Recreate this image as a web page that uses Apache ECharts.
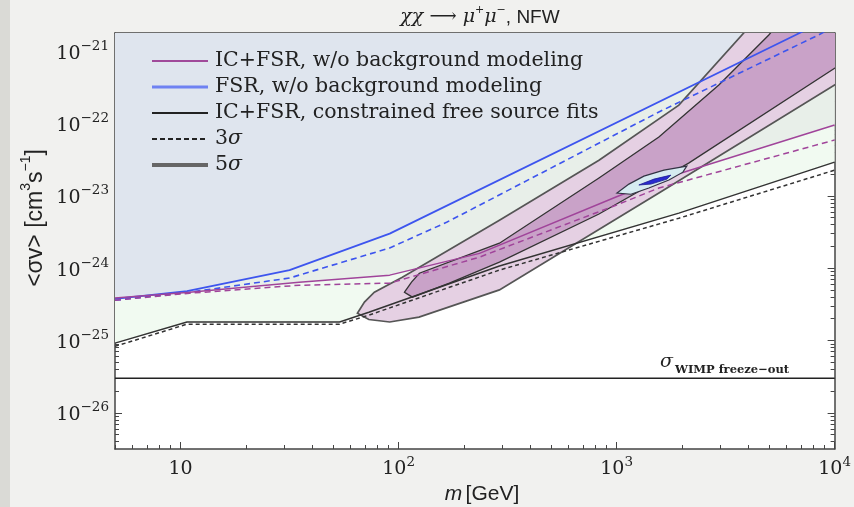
<!DOCTYPE html>
<html><head><meta charset="utf-8">
<script src="https://cdn.jsdelivr.net/npm/echarts@6/dist/echarts.min.js"></script>
<style>
html,body{margin:0;padding:0;background:#f1f1ef;}
#c{width:854px;height:507px;position:absolute;left:0;top:0;}
.strip{position:absolute;left:0;top:0;width:10px;height:507px;background:#dadad6;}
</style>
</head><body><div class="strip"></div><div id="c"></div>
<script>
// ---- data (mass in GeV, <sigma v> in cm^3/s) ----
const massBlueSolid = [5, 10.7, 31.6, 91, 6620, 10000];
const sigvBlueSolid = [3.75e-25, 4.8e-25, 9.4e-25, 3.0e-24, 1.67e-21, 3.1e-21];
const massBlueDashed = [5, 11, 31.6, 91, 166, 1563, 8430, 10000];
const sigvBlueDashed = [3.6e-25, 4.65e-25, 7.3e-25, 1.9e-24, 4.3e-24, 1.44e-22, 1.67e-21, 2.2e-21];
const massPurpleSolid = [5, 11, 35, 91, 235, 993, 1563, 10000];
const sigvPurpleSolid = [3.85e-25, 4.65e-25, 6.4e-25, 8.0e-25, 1.6e-24, 9.6e-24, 1.65e-23, 9.5e-23];
const massPurpleDashed = [5, 11, 35, 91, 235, 993, 1563, 10000];
const sigvPurpleDashed = [3.6e-25, 4.5e-25, 5.8e-25, 6.2e-25, 1.42e-24, 7.4e-24, 1.28e-23, 5.9e-23];
const massBlackSolid = [5, 10.7, 53.6, 73, 290, 1930, 10000];
const sigvBlackSolid = [9.2e-26, 1.8e-25, 1.8e-25, 2.46e-25, 1.07e-24, 5.76e-24, 2.92e-23];
const massBlackDashed = [5, 10.7, 53.6, 73, 290, 1930, 10000];
const sigvBlackDashed = [8.3e-26, 1.68e-25, 1.68e-25, 2.24e-25, 9.4e-25, 4.9e-24, 2.26e-23];
const massWimp = [5, 10000];
const sigvWimp = [3e-26, 3e-26];
// 5 sigma (outer) contour
const massOuter = [64.7, 69.7, 77.4, 104, 290, 830, 1930, 3830, 5530, 20000, 20000, 10000, 1563, 290, 124, 91, 73];
const sigvOuter = [2.38e-25, 3.39e-25, 4.65e-25, 7.5e-25, 4.6e-24, 3.1e-23, 1.79e-22, 1.78e-21, 7.0e-21, 1.3e-20, 1.21e-21, 3.4e-22, 1.09e-23, 5.0e-25, 2.1e-25, 1.8e-25, 1.95e-25];
// 3 sigma (inner) contour
const massInner = [106.4, 114.6, 124.5, 290, 830, 1563, 2944, 4990, 6840, 20000, 20000, 10000, 2140, 830, 290, 171, 115.7];
const sigvInner = [4.65e-25, 6.4e-25, 8.5e-25, 2.21e-24, 1.76e-23, 6.5e-23, 3.4e-22, 1.67e-21, 5.1e-21, 1.3e-20, 2.3e-21, 5.8e-22, 2.83e-23, 5.6e-24, 1.21e-24, 6.2e-25, 3.97e-25];
// small FSR contour
const massSmall = [1004, 1139, 1334, 1648, 2099, 2014, 1738, 1406, 1164];
const sigvSmall = [1.09e-23, 1.45e-23, 1.87e-23, 2.26e-23, 2.57e-23, 2.12e-23, 1.65e-23, 1.28e-23, 1.05e-23];
const massCore = [1265, 1483, 1775, 1702, 1436];
const sigvCore = [1.41e-23, 1.70e-23, 1.93e-23, 1.70e-23, 1.45e-23];
// ticks
const xMajorTicks = [10, 100, 1000, 10000];
const yMajorTicks = [1e-26, 1e-25, 1e-24, 1e-23, 1e-22, 1e-21];
const legendLabels = ['IC+FSR, w/o background modeling', 'FSR, w/o background modeling', 'IC+FSR, constrained free source fits', '3σ', '5σ'];

const L = Math.log10;
const lmMin = L(5), lmMax = 4, lsMin = -26.5, lsMax = -20.75;
const pts = (ms, ss) => ms.map((m, i) => [L(m), L(ss[i])]);

const xMajor = xMajorTicks.map(L);
const yMajor = yMajorTicks.map(v => Math.round(L(v)));
const xMinor = [], yMinor = [];
for (let d = 0; d <= 3; d++) for (let k = 2; k <= 9; k++) { const v = d + L(k); if (v >= lmMin - 1e-9 && v <= lmMax) xMinor.push(v); }
for (let d = -27; d <= -21; d++) for (let k = 2; k <= 9; k++) { const v = d + L(k); if (v >= lsMin && v <= lsMax) yMinor.push(v); }

const SERIF = '"DejaVu Serif"';
const labelRich = {
  b: { fontFamily: SERIF, fontSize: 19, color: '#222', lineHeight: 24, verticalAlign: 'bottom' },
  s: { fontFamily: SERIF, fontSize: 13.5, color: '#222', lineHeight: 15, verticalAlign: 'top' }
};
const fmtX = v => { const n = Math.round(v); return n === 1 ? '{b|10}' : '{b|10}{s|' + n + '}'; };
const fmtY = v => { const n = Math.round(v); return '{b|10}{s|−' + Math.abs(n) + '}'; };

function axis(pos, isX, major, showLabel) {
  const base = {
    type: 'value', gridIndex: 0, position: pos,
    min: isX ? lmMin : lsMin, max: isX ? lmMax : lsMax,
    splitLine: { show: false },
    axisLine: { show: major, onZero: false, lineStyle: { color: '#444', width: 1.5 } },
    axisTick: { show: true, inside: true, length: major ? 7 : 4, lineStyle: { color: '#444', width: 1 },
      customValues: isX ? (major ? xMajor : xMinor) : (major ? yMajor : yMinor) },
    axisLabel: { show: false }
  };
  if (showLabel) {
    base.axisLabel = { show: true, customValues: isX ? xMajor : yMajor, formatter: isX ? fmtX : fmtY,
      rich: labelRich, margin: 6 };
  }
  return base;
}

function lineS(ms, ss, color, width, type, z) {
  return { type: 'line', data: pts(ms, ss), symbol: 'none', silent: true, z: z || 5,
    lineStyle: { color, width, type: type || 'solid' } };
}
function fillS(ms, ss, color, z) {
  return { type: 'line', data: pts(ms, ss), symbol: 'none', silent: true, z,
    lineStyle: { width: 0, opacity: 0 }, areaStyle: { color, opacity: 1, origin: 'end' } };
}
function polyS(ms, ss, fill, stroke, lw, z) {
  const data = pts(ms, ss);
  return { type: 'custom', data, clip: true, silent: true, z,
    renderItem(params, api) {
      if (params.dataIndex !== 0) return null;
      return { type: 'polygon', shape: { points: data.map(p => api.coord(p)) },
        style: { fill, stroke, lineWidth: lw } };
    } };
}

const chart = echarts.init(document.getElementById('c'), null, { renderer: 'canvas' });

const legendColors = [
  { color: '#a04a9a', width: 2, type: 'solid' },
  { color: '#6f82f2', width: 3, type: 'solid' },
  { color: '#222', width: 2, type: 'solid' },
  { color: '#222', width: 2, type: [5, 3] },
  { color: '#666', width: 4, type: 'solid' }
];
const legendY = [61, 87, 113, 139, 165];
const graphics = [];
legendLabels.forEach((t, i) => {
  graphics.push({ type: 'line', silent: true, z: 100, shape: { x1: 152, y1: legendY[i], x2: 208, y2: legendY[i] },
    style: { stroke: legendColors[i].color, lineWidth: legendColors[i].width, lineDash: legendColors[i].type === 'solid' ? null : legendColors[i].type } });
  const txt = t.includes('σ') ? '{n|' + t.replace('σ', '') + '}{i|σ}' : '{n|' + t + '}';
  graphics.push({ type: 'text', silent: true, z: 100, x: 215, y: legendY[i],
    style: { text: txt, verticalAlign: 'middle', align: 'left',
      rich: { n: { fontFamily: SERIF, fontSize: 20.5, fill: '#222' }, i: { fontFamily: SERIF, fontStyle: 'italic', fontSize: 20.5, fill: '#222' } } } });
});
// title
graphics.push({ type: 'text', silent: true, x: 480, y: 16,
  style: { text: '{g|χχ ⟶ μ}{sp|+}{g|μ}{sp|−}{n|, NFW}', align: 'center', verticalAlign: 'middle',
    rich: { g: { fontFamily: SERIF, fontStyle: 'italic', fontSize: 19, fill: '#222', lineHeight: 22, verticalAlign: 'bottom' },
      sp: { fontFamily: SERIF, fontSize: 11, fill: '#222', lineHeight: 12, verticalAlign: 'top' },
      n: { fontFamily: '"Liberation Sans"', fontSize: 19, fill: '#222', lineHeight: 22, verticalAlign: 'bottom' } } } });
// y axis name
graphics.push({ type: 'text', silent: true, x: 33, y: 218, rotation: Math.PI / 2,
  style: { text: '{n|<σv> [cm}{s|3}{n|s}{s|−1}{n|]}', align: 'center', verticalAlign: 'middle',
    rich: { n: { fontFamily: '"Liberation Sans"', fontSize: 23, fill: '#222', lineHeight: 28, verticalAlign: 'bottom' },
      s: { fontFamily: '"Liberation Sans"', fontSize: 14, fill: '#222', lineHeight: 16, verticalAlign: 'top' } } } });
// x axis name
graphics.push({ type: 'text', silent: true, x: 482, y: 494,
  style: { text: '{i|m} {n|[GeV]}', align: 'center', verticalAlign: 'middle',
    rich: { i: { fontFamily: '"Liberation Sans"', fontStyle: 'italic', fontSize: 21, fill: '#222' },
      n: { fontFamily: '"Liberation Sans"', fontSize: 21, fill: '#222' } } } });
// WIMP label
graphics.push({ type: 'text', silent: true, x: 660, y: 362,
  style: { text: 'σ', fontFamily: SERIF, fontStyle: 'italic', fontSize: 19, fill: '#222', verticalAlign: 'middle' } });
graphics.push({ type: 'text', silent: true, x: 675, y: 370,
  style: { text: 'WIMP freeze−out', fontFamily: SERIF, fontWeight: 'bold', fontSize: 11.5, fill: '#222', verticalAlign: 'middle' } });

chart.setOption({
  backgroundColor: 'transparent',
  animation: false,
  grid: { left: 115, right: 18, top: 33, bottom: 58, show: true, backgroundColor: '#ffffff', borderWidth: 0 },
  xAxis: [axis('bottom', true, true, true), axis('bottom', true, false, false), axis('top', true, true, false), axis('top', true, false, false)],
  yAxis: [axis('left', false, true, true), axis('left', false, false, false), axis('right', false, true, false), axis('right', false, false, false)],
  series: [
    fillS(massBlackSolid, sigvBlackSolid, '#f1faf1', 1),
    fillS(massPurpleSolid, sigvPurpleSolid, '#e8efe9', 1),
    fillS(massBlueSolid, sigvBlueSolid, '#dfe5ee', 1),
    polyS(massOuter, sigvOuter, '#e5d0e3', '#555', 1.7, 2),
    polyS(massInner, sigvInner, '#c9a2c8', '#333', 1.3, 2),
    lineS(massBlueSolid, sigvBlueSolid, '#3d55ee', 1.8, 'solid', 5),
    lineS(massBlueDashed, sigvBlueDashed, '#3d55ee', 1.6, [6, 4], 5),
    lineS(massPurpleSolid, sigvPurpleSolid, '#a0449a', 1.5, 'solid', 5),
    lineS(massPurpleDashed, sigvPurpleDashed, '#a0449a', 1.5, [6, 4], 5),
    lineS(massBlackSolid, sigvBlackSolid, '#333', 1.5, 'solid', 5),
    lineS(massBlackDashed, sigvBlackDashed, '#333', 1.5, [4, 3], 5),
    polyS(massSmall, sigvSmall, '#d6ebf1', '#334', 1.2, 6),
    polyS(massCore, sigvCore, '#2a2ad0', '#1a1a90', 0.8, 7),
    lineS(massWimp, sigvWimp, '#222', 1.6, 'solid', 5)
  ],
  graphic: graphics
});
</script>
</body></html>
